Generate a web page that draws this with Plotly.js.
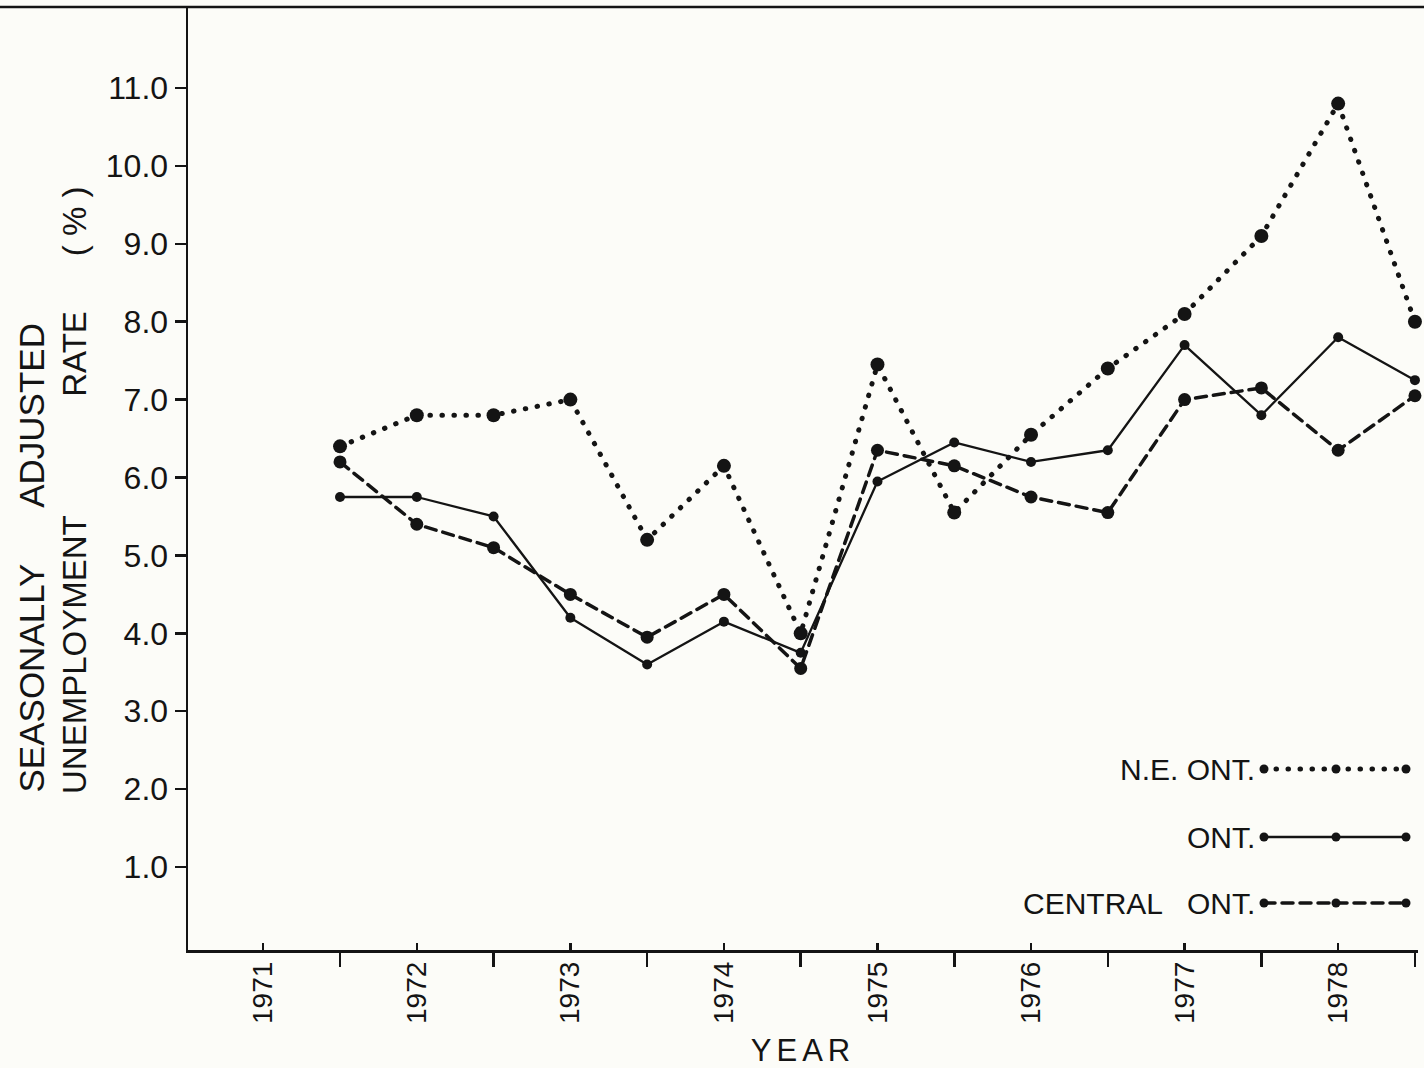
<!DOCTYPE html>
<html>
<head>
<meta charset="utf-8">
<script src="https://cdn.plot.ly/plotly-3.0.1.min.js"></script>
<style>
  html, body { margin: 0; padding: 0; background: #fcfcf8; }
  #chart { width: 1424px; height: 1068px; }
  .scatterlayer .js-line { stroke-linecap: round; stroke-linejoin: round; }
  .shapelayer path { stroke-linecap: round; }
  .xtitle { letter-spacing: 5px; }
</style>
</head>
<body>
<div id="chart"></div>
<script>
// ---- data ----
const years = [1971.5, 1972, 1972.5, 1973, 1973.5, 1974, 1974.5, 1975, 1975.5, 1976, 1976.5, 1977, 1977.5, 1978, 1978.5];
const neOnt      = [6.4, 6.8, 6.8, 7.0, 5.2, 6.15, 4.0, 7.45, 5.55, 6.55, 7.4, 8.1, 9.1, 10.8, 8.0];
const ont        = [5.75, 5.75, 5.5, 4.2, 3.6, 4.15, 3.75, 5.95, 6.45, 6.2, 6.35, 7.7, 6.8, 7.8, 7.25];
const centralOnt = [6.2, 5.4, 5.1, 4.5, 3.95, 4.5, 3.55, 6.35, 6.15, 5.75, 5.55, 7.0, 7.15, 6.35, 7.05];
const seriesNames = ['N.E. ONT.', 'ONT.', 'CENTRAL   ONT.'];
const yearTicks = [1971, 1972, 1973, 1974, 1975, 1976, 1977, 1978];
const yearTickLabels = ['1971', '1972', '1973', '1974', '1975', '1976', '1977', '1978'];
const rateTicks = [1, 2, 3, 4, 5, 6, 7, 8, 9, 10, 11];
const rateTickLabels = ['1.0', '2.0', '3.0', '4.0', '5.0', '6.0', '7.0', '8.0', '9.0', '10.0', '11.0'];
const yTitleLine1 = 'SEASONALLY      ADJUSTED';
const yTitleLine2 = 'UNEMPLOYMENT             RATE      ( % )';
const xTitle = 'YEAR';

// ---- geometry / style ----
const W = 1424, H = 1068, ML = 188, MR = 6, MT = 7, MB = 118;
const PW = W - ML - MR, PH = H - MT - MB;
const px2x = px => (px - ML) / PW;
const px2y = py => (H - MB - py) / PH;
const INK = '#141414';
const FONT = 'Liberation Sans, Arial, sans-serif';

const styles = [
  { data: neOnt,      line: { color: INK, width: 5,   dash: '0.5px,11.5px' }, msize: 14, legendMsize: 9 },
  { data: ont,        line: { color: INK, width: 2.3, dash: 'solid' },        msize: 10, legendMsize: 9 },
  { data: centralOnt, line: { color: INK, width: 3.5, dash: '11px,7px' },     msize: 13, legendMsize: 9 }
];

const traces = styles.map((s, i) => ({
  type: 'scatter',
  mode: 'lines+markers',
  name: seriesNames[i],
  x: years,
  y: s.data,
  line: s.line,
  marker: { size: s.msize, color: INK },
  cliponaxis: false,
  showlegend: false
}));

// custom legend: text on the left, sample line with three dots on the right
const legendRows = [769, 837, 903];
const legendTextRight = 1257;
const legendDotsX = [1264, 1336, 1406];
const shapes = [];
const annotations = [];
styles.forEach((s, i) => {
  const y = px2y(legendRows[i]);
  annotations.push({
    xref: 'paper', yref: 'paper', x: px2x(legendTextRight), y: y,
    xanchor: 'right', yanchor: 'middle', showarrow: false,
    text: seriesNames[i], font: { family: FONT, size: 30, color: INK }
  });
  shapes.push({
    type: 'line', xref: 'paper', yref: 'paper',
    x0: px2x(legendDotsX[0]), x1: px2x(legendDotsX[2]), y0: y, y1: y,
    line: { color: INK, width: s.line.width, dash: s.line.dash }
  });
  legendDotsX.forEach(dx => {
    const r = s.legendMsize / 2;
    shapes.push({
      type: 'circle', xref: 'paper', yref: 'paper',
      xsizemode: 'pixel', ysizemode: 'pixel',
      xanchor: px2x(dx), yanchor: y,
      x0: -r, x1: r, y0: -r, y1: r,
      fillcolor: INK, line: { width: 0 }
    });
  });
});

// top border of the page frame
shapes.push({
  type: 'line', xref: 'paper', yref: 'paper',
  x0: px2x(0), x1: px2x(W), y0: 1, y1: 1,
  line: { color: INK, width: 2.5 }
});

// y-axis title (two lines, bottom aligned like the reference)
annotations.push({
  xref: 'paper', yref: 'paper', x: px2x(31), y: px2y(794),
  xanchor: 'center', yanchor: 'bottom', textangle: -90, showarrow: false,
  text: yTitleLine1, font: { family: FONT, size: 35, color: INK }
});
annotations.push({
  xref: 'paper', yref: 'paper', x: px2x(74), y: px2y(796),
  xanchor: 'center', yanchor: 'bottom', textangle: -90, showarrow: false,
  text: yTitleLine2, font: { family: FONT, size: 33, color: INK }
});

const yRange = [-0.065, 12.04];
const layout = {
  width: W, height: H,
  margin: { l: ML, r: MR, t: MT, b: MB, pad: 0 },
  paper_bgcolor: '#fcfcf8',
  plot_bgcolor: '#fcfcf8',
  showlegend: false,
  xaxis: {
    range: [1970.51, 1978.52],
    tickmode: 'array', tickvals: yearTicks, ticktext: yearTickLabels,
    ticks: 'inside', ticklen: 7, tickwidth: 2.5, tickcolor: INK,
    tickangle: -90, ticklabelstandoff: -2,
    tickfont: { family: FONT, size: 28, color: INK },
    minor: {
      tickmode: 'array', tickvals: years.filter(v => v % 1 !== 0),
      ticks: 'outside', ticklen: 14, tickwidth: 2.5, tickcolor: INK, showgrid: false
    },
    showline: true, linewidth: 2.5, linecolor: INK,
    showgrid: false, zeroline: false,
    title: { text: xTitle, standoff: 22, font: { family: FONT, size: 31, color: INK } }
  },
  yaxis: {
    range: yRange,
    tickmode: 'array', tickvals: rateTicks, ticktext: rateTickLabels,
    ticks: 'outside', ticklen: 11, tickwidth: 2.5, tickcolor: INK,
    tickfont: { family: FONT, size: 32, color: INK },
    showline: true, linewidth: 2.5, linecolor: INK,
    showgrid: false, zeroline: false
  },
  yaxis2: {
    overlaying: 'y', side: 'right', anchor: 'x',
    range: yRange,
    tickmode: 'array', tickvals: rateTicks,
    ticks: 'inside', ticklen: 8, tickwidth: 2.5, tickcolor: INK,
    showticklabels: false,
    showline: true, linewidth: 2.5, linecolor: INK,
    showgrid: false, zeroline: false
  },
  shapes: shapes,
  annotations: annotations
};

Plotly.newPlot('chart', traces, layout, { displayModeBar: false, staticPlot: true });
</script>
</body>
</html>
